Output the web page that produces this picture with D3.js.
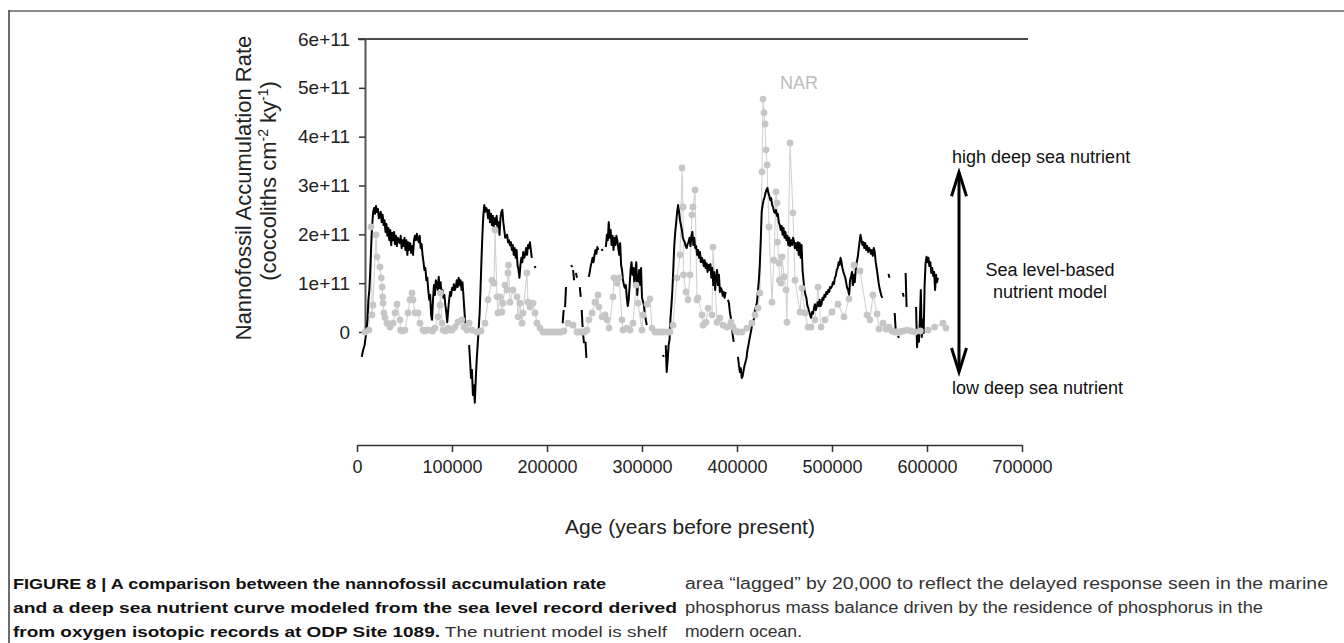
<!DOCTYPE html>
<html><head><meta charset="utf-8">
<script src="https://cdn.jsdelivr.net/npm/d3@7"></script>
<style>
body{margin:0;background:#fff}
svg{display:block;font-family:"Liberation Sans",Arial,Helvetica,sans-serif}
</style>
</head><body>
<svg id="chart" width="1344" height="643"></svg>
<script>
// ---------------- DATA ----------------
const UNIT = 1e11;               // values below are in units of 1e11 coccoliths cm-2 ky-1
const xTickValues = [0,100000,200000,300000,400000,500000,600000,700000];
const xTickLabels = ["0","100000","200000","300000","400000","500000","600000","700000"];
const yTickValues = [0,1,2,3,4,5,6];
const yTickLabels = ["0","1e+11","2e+11","3e+11","4e+11","5e+11","6e+11"];

// Sea level-based nutrient model: segments (gaps between them), start age in ka, 1 ka step
const nutrientSegments = [
 {start:5, values:[-0.51,-0.41,-0.33,-0.27,-0.12,0.04,0.25,0.66,0.86,1.27,1.78,2.19,2.46,2.54,2.42,2.58,2.46,2.52,2.33,2.40,
  2.46,2.25,2.40,2.19,2.29,2.05,2.21,1.97,2.13,1.88,2.09,1.78,2.03,1.88,2.05,1.80,1.97,1.76,1.93,1.86,
  1.82,1.97,1.72,1.88,1.76,1.93,1.68,1.88,1.58,1.84,1.68,1.82,1.62,1.76,1.58,1.88,1.97,1.88,2.01,1.90,
  1.84,1.97,1.72,1.80,1.58,1.43,1.27,1.31,1.06,1.11,0.86,0.66,0.76,0.35,0.25,0.66,0.96,0.76,1.06,1.00,
  0.86,1.13,0.90,1.02,0.76,0.86,0.70,0.76,0.55,0.41,0.20,
  0.45,0.66,0.82,0.74,0.90,0.86,0.98,0.86,0.92,1.06,0.92,1.11,0.96,1.06,0.86,1.02,0.76,0.45,0.18]},
 {start:118, values:[-0.27,-0.57,-0.94,-0.78,-1.29,-1.09,-1.45,-0.98,-0.57,-0.27,0.04,0.35,0.86,1.47,1.99,2.40,2.60,2.46,2.54,2.50,
  2.33,2.50,2.25,2.42,2.19,2.38,2.13,2.33,2.21,2.38,2.09,2.25,1.99,2.33,2.46,2.50,2.25,2.09,1.93,1.97,
  1.99,1.84,1.88,1.78,1.84,1.68,1.78,1.58,1.72,1.52,1.68,1.37,1.27,1.11,1.37,1.52,1.43,1.64,1.52,1.58,
  1.72,1.58,1.78,1.72,1.84,1.68,1.52]},
 {start:187, values:[1.35,1.31]},
 {start:216.5, values:[0.18,0.45]},
 {start:219, values:[0.51,0.92]},
 {start:225.5, values:[1.37,1.33]},
 {start:227.5, values:[1.27,1.06]},
 {start:230.5, values:[1.21,1.11]},
 {start:234.5, values:[0.92,0.72]},
 {start:236.5, values:[0.45,0.10]},
 {start:238, values:[-0.06,-0.23]},
 {start:240.5, values:[-0.20,-0.53]},
 {start:244, values:[1.13,1.23,1.35,1.43,1.52,1.43,1.58,1.68,1.60,1.74,1.68]},
 {start:257.5, values:[1.70,1.66]},
 {start:262, values:[1.74,1.99,1.88,2.25,1.93,2.09,1.78,1.97,1.68,1.93,1.78,1.97,1.88,1.72,1.58,1.82,1.37,1.27,1.06,0.96,
  0.90,0.96,0.70,0.53,0.66,0.96,1.27,1.43,1.17,1.31,0.96,1.27,1.43,0.76,1.06,1.27,0.96,1.31,0.70,0.63,
  0.55,0.35,0.25,0.14]},
 {start:322, values:[-0.47,-0.51]},
 {start:325, values:[-0.27,-0.82,-0.57,-0.27,-0.16,0.29,0.55,0.86,1.31,1.78,2.05,2.25,2.46,2.60,2.46,2.29,2.19,2.09,1.93,1.88,
  1.84,1.76,1.72,1.80,1.84,1.93,1.76,1.97,2.05,1.78,1.93,1.72,1.76,1.58,1.68,1.52,1.64,1.43,1.52,1.47,
  1.35,1.47,1.31,1.41,1.23,1.37,1.27,1.39,1.11,1.31,0.96,1.23,0.86,1.11,1.27,0.96,1.17,0.82,0.90,0.86,
  0.74,0.82,0.70,0.82]},
 {start:390.5, values:[0.66,0.59,0.41,0.29,0.14,-0.06,-0.20]},
 {start:401, values:[-0.51,-0.68,-0.82,-0.74,-0.94,-0.90,-0.78,-0.68,-0.61,-0.53,-0.37,-0.27,-0.16,-0.06,0.04,0.16,0.20,0.29,0.45,0.53,
  0.61,0.82,1.06,1.37,1.88,2.46,2.60,2.70,2.76,2.85,2.91,2.95,2.85,2.79,2.70,2.74,2.60,2.56,2.46,2.44,
  2.50,2.38,2.42,2.25,2.19,2.09,2.17,1.99,2.13,1.93,2.05,1.88,1.97,1.78,1.93,1.76,1.88,1.78,1.93,1.86,
  1.72,1.82,1.68,1.84,1.58,1.82,1.52,1.78,1.27,1.06,0.86,0.76,0.70,0.55,0.49,0.41,0.35,0.29,0.41,0.37,
  0.49,0.57,0.45,0.53,0.61,0.53,0.66,0.53,0.57,0.70,0.66,0.76,0.72,0.82,0.78,0.86,0.82,0.92,0.90,0.94,
  1.02,0.98,1.11,1.15,1.27,1.31,1.43,1.37,1.52,1.43,1.31,1.23,1.17,1.11,1.00,0.90,0.86,0.76,1.06,1.13,
  1.23,0.96,1.17,1.02,1.27,1.43,1.52,1.68,1.84,1.99,1.88,1.78,1.84,1.72,1.82,1.68,1.76,1.64,1.72,1.68,
  1.60,1.68,1.56,1.72,1.64,1.43,1.31,1.17,1.02,0.90,0.82,0.74,0.70]},
 {start:559.5, values:[1.19,1.11]},
 {start:566, values:[0.39,0.04]},
 {start:569.5, values:[-0.08,-0.12]},
 {start:574.5, values:[0.80,0.72]},
 {start:577.5, values:[1.21,0.51]},
 {start:588.5, values:[0.51,-0.31,-0.06,-0.20,0.25,0.86,-0.10,0.25,-0.02,0.96,1.41,1.54,1.43,1.52,1.35,1.43,1.21,1.31,1.15,1.23,0.86,1.17,1.02,1.11]}
];

// Nannofossil accumulation rate (NAR): [age ka, value 1e11]
const narData = [
 [8.4,0.00],[12.6,0.04],[14.7,2.15],[15.8,0.35],[16.8,0.55],[20.0,1.99],[21.1,1.54],[24.2,1.33],[25.5,1.11],[26.5,0.92],
 [27.0,0.72],[27.4,0.59],[28.4,0.39],[29.5,0.29],[31.6,0.18],[34.7,0.10],[37.9,0.18],[40.0,0.39],[42.1,0.57],[45.3,0.25],
 [45.8,0.04],[48.0,0.02],[50.5,0.04],[53.7,0.39],[55.8,0.66],[57.9,0.80],[58.9,0.66],[61.1,0.39],[64.2,0.39],[66.3,0.18],
 [69.5,0.04],[71.5,0.02],[73.7,0.04],[76.8,0.04],[79.5,0.02],[82.1,0.08],[85.3,0.31],[87.4,0.55],[87.9,0.80],[89.5,0.18],
 [90.5,0.04],[93.0,0.02],[95.8,0.08],[98.0,0.04],[100.0,0.04],[103.2,0.10],[106.3,0.20],[110.5,0.25],[112.6,0.10],[115.8,0.04],
 [117.9,0.18],[121.1,0.04],[126.3,0.00],[130.5,0.02],[134.7,0.18],[137.9,0.66],[142.1,1.06],[144.2,1.00],[145.3,2.09],[147.4,0.72],
 [148.4,0.39],[150.5,0.72],[152.6,0.41],[153.7,0.59],[155.8,0.96],[157.9,0.86],[158.9,1.21],[159.4,1.37],[161.1,0.61],[164.2,0.86],
 [168.4,0.72],[169.5,0.31],[171.6,0.59],[173.7,0.18],[174.7,0.39],[178.9,1.21],[180.0,0.61],[182.1,0.51],[185.3,0.59],[187.4,0.39],
 [189.5,0.18],[192.6,0.08],[195.8,0.00],[199.0,0.00],[202.1,0.00],[205.3,0.00],[208.4,0.00],[211.6,0.00],[214.7,0.00],[217.9,0.02],
 [222.1,0.18],[227.4,0.14],[231.6,0.00],[234.5,0.00],[236.8,0.00],[239.5,0.00],[242.1,0.04],[244.2,0.25],[247.4,0.39],[250.5,0.61],
 [253.7,0.76],[254.7,0.51],[257.9,0.31],[261.1,0.35],[263.2,0.25],[265.3,0.08],[269.5,0.72],[270.5,1.11],[273.7,1.00],[275.8,1.11],
 [278.9,0.25],[280.0,0.04],[284.2,0.08],[287.4,0.04],[290.5,0.18],[293.7,0.96],[295.8,0.59],[300.0,0.04],[301.1,0.35],[305.3,0.57],
 [308.4,0.68],[310.5,0.08],[313.7,0.00],[316.5,0.00],[318.9,0.00],[322.0,0.00],[326.3,0.00],[329.5,0.00],[332.6,0.14],[336.8,1.11],
 [340.0,1.58],[342.1,3.36],[343.2,2.56],[343.7,1.17],[346.3,0.82],[348.4,0.66],[350.5,1.17],[352.6,2.40],[353.7,2.56],[355.8,2.91],
 [357.9,0.66],[358.9,0.70],[363.2,0.35],[364.2,0.14],[367.4,0.20],[369.5,0.49],[373.7,0.35],[374.7,1.74],[378.9,0.20],[382.1,0.29],
 [385.3,0.14],[389.5,0.10],[393.7,0.20],[395.8,0.10],[398.5,0.02],[401.1,0.00],[405.3,0.00],[410.5,0.08],[415.8,0.18],[418.9,0.35],
 [422.1,0.49],[424.2,0.80],[426.3,3.28],[427.4,4.77],[428.4,4.49],[429.5,4.26],[430.5,3.73],[431.6,3.42],[433.7,2.15],[436.8,0.61],
 [438.9,1.47],[441.1,2.87],[442.1,2.64],[442.6,1.84],[444.2,1.41],[444.7,1.06],[446.3,1.00],[447.4,1.54],[449.5,1.13],[451.6,0.86],
 [452.6,0.20],[455.8,3.87],[458.9,2.44],[461.1,1.06],[466.3,0.41],[468.4,0.90],[471.6,0.39],[474.7,0.10],[477.9,0.10],[482.1,0.25],
 [485.3,0.92],[488.4,0.10],[492.6,0.25],[500.0,0.41],[506.3,0.57],[512.6,0.31],[517.9,0.68],[523.2,1.37],[529.5,1.25],[536.8,0.35],
 [540.0,0.25],[543.2,0.76],[547.4,0.37],[549.5,0.06],[553.7,0.18],[556.8,0.06],[560.0,0.10],[563.0,0.02],[566.3,0.00],[569.0,0.00],
 [571.6,0.00],[575.0,0.02],[578.9,0.04],[583.0,0.02],[587.4,0.00],[593.0,0.02],[601.1,0.04],[608.0,0.10],[616.8,0.18],[620.0,0.08]
];

// ---------------- CHART ----------------
const svg = d3.select("#chart");
svg.append("rect").attr("width",1344).attr("height",643).attr("fill","#fff");

// figure frame
svg.append("line").attr("x1",9).attr("x2",1344).attr("y1",11).attr("y2",11).attr("stroke","#8a8a8a").attr("stroke-width",2);
svg.append("line").attr("x1",9).attr("x2",9).attr("y1",10).attr("y2",643).attr("stroke","#3a3a3a").attr("stroke-width",1.5);

const x = d3.scaleLinear().domain([0,700000]).range([357,1022]);
const y = d3.scaleLinear().domain([0,6*UNIT]).range([332,39]);

// top line at 6e+11
svg.append("line").attr("x1",358).attr("x2",1028).attr("y1",y(6*UNIT)).attr("y2",y(6*UNIT))
  .attr("stroke","#111").attr("stroke-width",1.6);

// Y axis
const yAxis = d3.axisLeft(y).tickValues(yTickValues.map(v=>v*UNIT))
  .tickFormat((d,i)=>yTickLabels[i]).tickSize(6).tickSizeOuter(0).tickPadding(9);
const gy = svg.append("g").attr("transform","translate(365,0)").call(yAxis);
gy.select(".domain").attr("stroke","#555").attr("stroke-width",2);
gy.selectAll(".tick line").attr("stroke","#333").attr("stroke-width",1.5);
gy.selectAll(".tick text").attr("font-size",19).attr("fill","#222")
  .attr("font-family","Liberation Sans, Arial, sans-serif");

// X axis
const xAxis = d3.axisBottom(x).tickValues(xTickValues).tickFormat((d,i)=>xTickLabels[i])
  .tickSize(7).tickSizeOuter(0).tickPadding(8);
const gx = svg.append("g").attr("transform","translate(0,445)").call(xAxis);
gx.select(".domain").attr("stroke","#333").attr("stroke-width",1.6);
gx.selectAll(".tick line").attr("stroke","#333").attr("stroke-width",1.5);
gx.selectAll(".tick text").attr("font-size",18).attr("fill","#222")
  .attr("font-family","Liberation Sans, Arial, sans-serif");

// axis titles
const yt = svg.append("text").attr("transform","translate(251,188) rotate(-90)")
  .attr("text-anchor","middle").attr("font-size",22).attr("fill","#222");
yt.text("Nannofossil Accumulation Rate");
const yt2 = svg.append("text").attr("transform","translate(276,181) rotate(-90)")
  .attr("text-anchor","middle").attr("font-size",22).attr("fill","#222");
yt2.append("tspan").text("(coccoliths cm");
yt2.append("tspan").attr("dy",-8).attr("font-size",14).text("-2");
yt2.append("tspan").attr("dy",8).text(" ky");
yt2.append("tspan").attr("dy",-8).attr("font-size",14).text("-1");
yt2.append("tspan").attr("dy",8).text(")");

svg.append("text").attr("x",690).attr("y",534).attr("text-anchor","middle")
  .attr("font-size",21).attr("fill","#222").text("Age (years before present)");

// NAR series (gray)
const narLine = d3.line().x(d=>x(d[0]*1000)).y(d=>y(d[1]*UNIT));
svg.append("path").datum(narData).attr("d",narLine).attr("fill","none")
  .attr("stroke","#d2d2d2").attr("stroke-width",1.1);

// nutrient model (black)
const nutLine = d3.line().x(d=>x(d.age*1000)).y(d=>y(d.v*UNIT));
const segPts = nutrientSegments.map(s=>s.values.map((v,i)=>({age:s.start+i, v})));
svg.append("g").selectAll("path").data(segPts).join("path")
  .attr("d",nutLine).attr("fill","none").attr("stroke","#000").attr("stroke-width",2)
  .attr("stroke-linejoin","round").attr("stroke-linecap","butt");

svg.append("g").selectAll("circle").data(narData).join("circle")
  .attr("cx",d=>x(d[0]*1000)).attr("cy",d=>y(d[1]*UNIT)).attr("r",3.4).attr("fill","#c6c6c6");

// NAR label
svg.append("text").attr("x",780).attr("y",89).attr("font-size",18).attr("fill","#bdbdbd").text("NAR");

// right annotation
const ax = 959;
const yTop = y(3.27*UNIT), yBot = y(-0.82*UNIT);
svg.append("path").attr("d",`M${ax},${yTop+3}L${ax},${yBot-3}`).attr("stroke","#000").attr("stroke-width",3).attr("fill","none");
svg.append("path").attr("d",`M${ax-7.5},${yTop+24}L${ax},${yTop}L${ax+7.5},${yTop+24}`).attr("stroke","#000").attr("stroke-width",3).attr("fill","none");
svg.append("path").attr("d",`M${ax-7.5},${yBot-24}L${ax},${yBot}L${ax+7.5},${yBot-24}`).attr("stroke","#000").attr("stroke-width",3).attr("fill","none");
const ann = [
 {t:"high deep sea nutrient", x:952, y:163, a:"start"},
 {t:"Sea level-based", x:1050, y:276, a:"middle"},
 {t:"nutrient model", x:1050, y:298, a:"middle"},
 {t:"low deep sea nutrient", x:952, y:394, a:"start"}
];
svg.append("g").selectAll("text").data(ann).join("text")
  .attr("x",d=>d.x).attr("y",d=>d.y).attr("text-anchor",d=>d.a)
  .attr("font-size",18).attr("fill","#111").text(d=>d.t);

// caption
const cap = svg.append("g").attr("font-size",15);
cap.append("text").attr("x",13).attr("y",589).attr("font-weight","bold").attr("fill","#111")
  .attr("textLength",593).attr("lengthAdjust","spacingAndGlyphs")
  .text("FIGURE 8 | A comparison between the nannofossil accumulation rate");
cap.append("text").attr("x",13).attr("y",613).attr("font-weight","bold").attr("fill","#111")
  .attr("textLength",664).attr("lengthAdjust","spacingAndGlyphs")
  .text("and a deep sea nutrient curve modeled from the sea level record derived");
const c3 = cap.append("text").attr("x",13).attr("y",637).attr("fill","#333")
  .attr("textLength",654).attr("lengthAdjust","spacingAndGlyphs");
c3.append("tspan").attr("font-weight","bold").attr("fill","#111").text("from oxygen isotopic records at ODP Site 1089.");
c3.append("tspan").text(" The nutrient model is shelf");
const cap2 = svg.append("g").attr("font-size",16).attr("fill","#333");
cap2.append("text").attr("x",685).attr("y",589)
  .attr("textLength",643).attr("lengthAdjust","spacingAndGlyphs")
  .text("area \u201clagged\u201d by 20,000 to reflect the delayed response seen in the marine");
cap2.append("text").attr("x",685).attr("y",613)
  .attr("textLength",578).attr("lengthAdjust","spacingAndGlyphs")
  .text("phosphorus mass balance driven by the residence of phosphorus in the");
cap2.append("text").attr("x",685).attr("y",637)
  .attr("textLength",117).attr("lengthAdjust","spacingAndGlyphs")
  .text("modern ocean.");
</script>
</body></html>
